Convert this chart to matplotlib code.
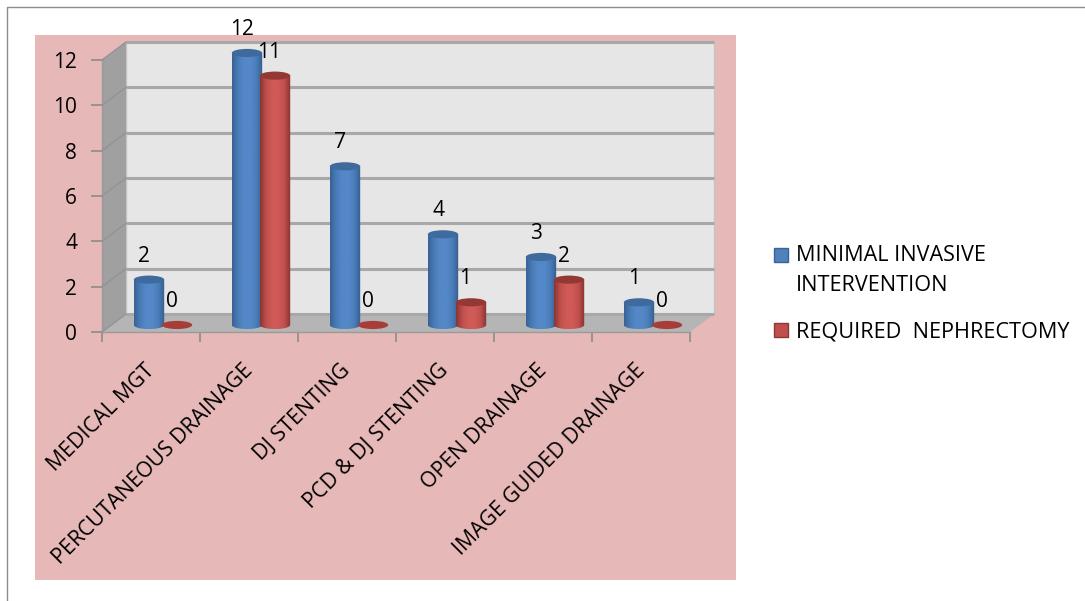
import matplotlib
matplotlib.use("Agg")
import matplotlib.pyplot as plt
import numpy as np
from matplotlib.lines import Line2D
from matplotlib.patches import Ellipse, Polygon, Rectangle

categories = ['MEDICAL MGT', 'PERCUTANEOUS DRAINAGE', 'DJ STENTING',
              'PCD & DJ STENTING', 'OPEN DRAINAGE', 'IMAGE GUIDED DRAINAGE']
minimal_invasive = [2, 12, 7, 4, 3, 1]
nephrectomy = [0, 11, 0, 1, 2, 0]
y_ticks = [0, 2, 4, 6, 8, 10, 12]
series_names = ['MINIMAL INVASIVE\nINTERVENTION', 'REQUIRED  NEPHRECTOMY']

W, H = 1085, 601
plt.rcParams['font.family'] = ['Open Sans', 'DejaVu Sans']

# fake 3d depth of the chart box, in data units
DEPTH_X = 24 / 98
DEPTH_Y = 18 / 22.67
BAR_W = 0.31
BAR_DEPTH_Y = 0.31
TOP_H = 0.36

BLUE = ['#396196', '#4a7db8', '#5488c8', '#5488c8', '#4a7db8', '#365c8e']
BLUE_TOP = '#3f6a9e'
RED = ['#8a3533', '#c0504d', '#cf5a57', '#cf5a57', '#c0504d', '#873230']
RED_TOP = '#943835'


def px_rect(x0, y0, x1, y1):
    return [x0 / W, 1 - y1 / H, (x1 - x0) / W, (y1 - y0) / H]


def draw_cylinder(ax, center, value, colours, top_colour):
    left = center - BAR_W / 2
    right = center + BAR_W / 2
    base = BAR_DEPTH_Y
    if value == 0:
        ax.add_patch(Ellipse((center, base), BAR_W, TOP_H, color='#a83c39', zorder=5, lw=0))
        return
    top = base + value
    cmap = matplotlib.colors.LinearSegmentedColormap.from_list('cyl', colours)
    grad = np.linspace(0, 1, 64).reshape(1, -1)
    im = ax.imshow(grad, cmap=cmap, extent=(left, right, base - TOP_H / 2, top),
                   aspect='auto', zorder=5, interpolation='bilinear')
    # round the bottom of the body
    t = np.linspace(np.pi, 2 * np.pi, 40)
    arc_x = center + BAR_W / 2 * np.cos(t)
    arc_y = base + TOP_H / 2 * np.sin(t)
    outline = np.column_stack([np.r_[left, arc_x, right], np.r_[top, arc_y, top]])
    clip = Polygon(outline, transform=ax.transData, fc='none', ec='none', clip_on=False)
    ax.add_patch(clip)
    im.set_clip_box(fig.bbox)
    im.set_clip_path(clip)
    ax.add_patch(Ellipse((center, top), BAR_W, TOP_H, fc=top_colour, ec='none', zorder=6, clip_on=False))


fig = plt.figure(figsize=(W / 100, H / 100), dpi=100, facecolor='white')

# page frame and pink chart area
fig.add_artist(Line2D([7 / W, 7 / W, 1], [0, 1 - 7 / H, 1 - 7 / H], color='#8c8c8c', lw=1))
fig.add_artist(Rectangle((35 / W, 1 - 580 / H), 701 / W, 545 / H, transform=fig.transFigure,
                         fc='#e6b8b7', ec='none', zorder=-1))

ax = fig.add_axes(px_rect(102, 60, 690, 332))
ax.patch.set_alpha(0)
n = len(categories)

# walls and floor
ax.add_patch(Polygon([(DEPTH_X, DEPTH_Y), (n + DEPTH_X, DEPTH_Y), (n + DEPTH_X, 12 + DEPTH_Y),
                      (DEPTH_X, 12 + DEPTH_Y)], fc='#e6e6e6', ec='#c4c4c4', lw=1, zorder=1, clip_on=False))
ax.add_patch(Polygon([(0, 0), (DEPTH_X, DEPTH_Y), (DEPTH_X, 12 + DEPTH_Y), (0, 12)],
                     fc='#a0a0a0', ec='none', zorder=2, clip_on=False))
ax.add_patch(Polygon([(0, 0), (DEPTH_X, DEPTH_Y), (n + DEPTH_X, DEPTH_Y), (n, 0)],
                     fc='#b5b5b5', ec='none', zorder=2, clip_on=False))

for v in y_ticks:
    ax.plot([DEPTH_X, n + DEPTH_X], [v + DEPTH_Y, v + DEPTH_Y], color='#a8a8a8', lw=2.2,
            zorder=3, clip_on=False, solid_capstyle='butt')
    ax.plot([0, DEPTH_X], [v, v + DEPTH_Y], color='#939393', lw=1, zorder=3, clip_on=False)

xpos = np.arange(n) + 0.5 + DEPTH_X / 2
for i in range(n):
    draw_cylinder(ax, xpos[i] - 0.143, minimal_invasive[i], BLUE, BLUE_TOP)
    draw_cylinder(ax, xpos[i] + 0.143, nephrectomy[i], RED, RED_TOP)
    ax.annotate(str(minimal_invasive[i]), (xpos[i] - 0.143, BAR_DEPTH_Y + minimal_invasive[i]),
                xytext=(-3.5, 17), textcoords='offset points', ha='center', va='center',
                fontsize=15, color='black', zorder=8, annotation_clip=False)
    ax.annotate(str(nephrectomy[i]), (xpos[i] + 0.143, BAR_DEPTH_Y + nephrectomy[i]),
                xytext=(-4, 17), textcoords='offset points', ha='center', va='center',
                fontsize=15, color='black', zorder=8, annotation_clip=False)

ax.set_xlim(0, n)
ax.set_ylim(0, 12)
ax.set_xticks(range(n + 1))
ax.set_xticklabels([])
ax.set_yticks(y_ticks)
ax.tick_params(axis='y', length=8, width=1.2, color='#8c8c8c', labelsize=15, pad=10)
ax.tick_params(axis='x', length=7, width=1.2, color='#8c8c8c')
for name in ['top', 'right']:
    ax.spines[name].set_visible(False)
for name in ['left', 'bottom']:
    ax.spines[name].set_color('#9a9a9a')
    ax.spines[name].set_linewidth(1)

for i, label in enumerate(categories):
    ax.annotate(label, (i + 0.5, 0), xytext=(-5, -20), textcoords='offset points',
                rotation=45, rotation_mode='anchor', ha='right', va='top',
                fontsize=15.3, annotation_clip=False)

# legend keys and text
fig.add_artist(Rectangle((774 / W, 1 - 262 / H), 14 / W, 14 / H, transform=fig.transFigure,
                         fc='#4f81bd', ec='#3a6491', lw=1))
fig.add_artist(Rectangle((774 / W, 1 - 337 / H), 14 / W, 14 / H, transform=fig.transFigure,
                         fc='#c0504d', ec='#8c3836', lw=1))
fig.text(796 / W, 1 - 270.5 / H, series_names[0], fontsize=15.6, va='center', linespacing=1.6)
fig.text(796 / W, 1 - 332 / H, series_names[1], fontsize=15.6, va='center')

fig.savefig('out.png', dpi=100)
